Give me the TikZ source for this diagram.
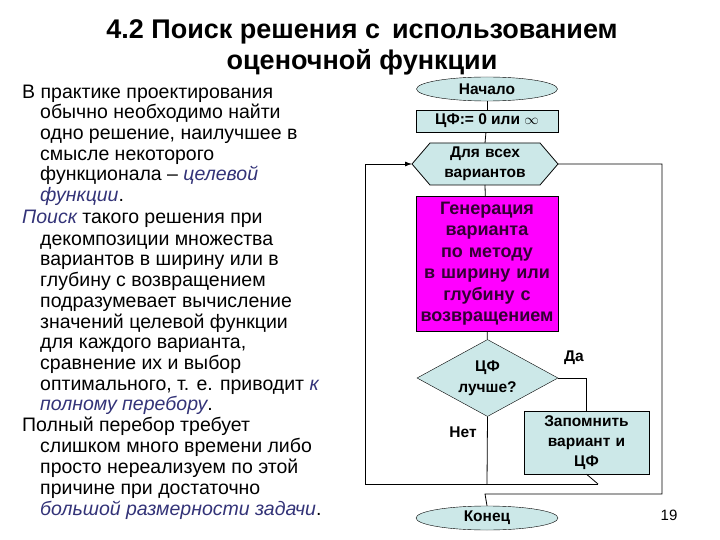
\documentclass[tikz,border=0pt]{standalone}
\usepackage{fontspec}
\setmainfont{Liberation Sans}
\usetikzlibrary{shapes.geometric,arrows.meta}
\definecolor{tealf}{RGB}{204,232,232}
\definecolor{mag}{RGB}{255,0,255}
\definecolor{itb}{RGB}{51,51,120}
\begin{document}
\begin{tikzpicture}[x=1pt,y=-1pt,
  fc/.style={draw,fill=tealf,font=\fontsize{15.5}{18}\selectfont\bfseries,align=center,inner sep=0pt},
  ln/.style={anchor=base west,inner sep=0pt,font=\fontsize{19.5}{21}\selectfont},
  wire/.style={line width=0.8pt}]
\useasboundingbox[fill=white] (0,0) rectangle (720,540);
\node[anchor=base,font=\fontsize{27}{30}\selectfont\bfseries] (t1) at (362,39) {4.2 Поиск решения с\, использованием};
\node[anchor=base,font=\fontsize{27}{30}\selectfont\bfseries] (t2) at (362,70) {оценочной функции};
% left text
\node[ln] (l1) at (22,99) {В практике проектирования};
\node[ln] (l2) at (40,119) {обычно необходимо найти};
\node[ln] (l3) at (40,140) {одно решение, наилучшее в};
\node[ln] (l4) at (40,161) {смысле некоторого};
\node[ln] (l5) at (40,181) {функционала – \textcolor{itb}{\itshape целевой}};
\node[ln] (l6) at (40,202) {\textcolor{itb}{\itshape функции}.};
\node[ln] (l7) at (22,224) {\textcolor{itb}{\itshape Поиск} такого решения при};
\node[ln] (l8) at (40,245) {декомпозиции множества};
\node[ln] (l9) at (40,265) {вариантов в ширину или в};
\node[ln] (l10) at (40,286) {глубину с возвращением};
\node[ln] (l11) at (40,307) {подразумевает вычисление};
\node[ln] (l12) at (40,328) {значений целевой функции};
\node[ln] (l13) at (40,348) {для каждого варианта,};
\node[ln] (l14) at (40,369) {сравнение их и выбор};
\node[ln] (l15) at (40,390) {оптимального, т. е. приводит \textcolor{itb}{\itshape к}};
\node[ln] (l16) at (40,410) {\textcolor{itb}{\itshape полному перебору}.};
\node[ln] (l17) at (22,431) {Полный перебор требует};
\node[ln] (l18) at (40,452) {слишком много времени либо};
\node[ln] (l19) at (40,473) {просто нереализуем по этой};
\node[ln] (l20) at (40,494) {причине при достаточно};
\node[ln] (l21) at (40,515) {\textcolor{itb}{\itshape большой размерности задачи}.};
% flowchart
\node[fc,ellipse,minimum width=141pt,minimum height=24pt] (start) at (487,89) {Начало};
\node[fc,rectangle,minimum width=142pt,minimum height=22pt] (init) at (487,121) {ЦФ:= 0 или $\infty$};
\draw[fill=tealf,wire] (412,164) -- (430,143) -- (540,143) -- (558,164) -- (540,185) -- (430,185) -- cycle;
\node[fc,draw=none,fill=none,text width=120pt,font=\fontsize{15.5}{20}\selectfont\bfseries] (loop) at (485,164) {Для всех\\вариантов};
\coordinate (loopL) at (412,164);
\coordinate (loopR) at (558,164);
\coordinate (loopT) at (485,143);
\coordinate (loopB) at (485,185);
\node[fc,fill=mag,rectangle,minimum width=142pt,minimum height=135pt,text width=140pt,font=\fontsize{18}{21.5}\selectfont\bfseries,text=black!80!mag] (gen) at (487,263.5) {Генерация\\варианта\\по методу\\в ширину или\\глубину с\\возвращением};
\node[fc,diamond,aspect=1.83,minimum width=141pt,minimum height=77pt,text width=60pt,font=\fontsize{15.5}{21}\selectfont\bfseries] (dec) at (487.5,378) {ЦФ\\лучше?};
\node[fc,rectangle,minimum width=125pt,minimum height=63pt,text width=123pt,font=\fontsize{15.5}{20}\selectfont\bfseries] (mem) at (586.5,442.5) {Запомнить\\вариант и\\ЦФ};
\node[fc,ellipse,minimum width=142pt,minimum height=24pt] (end) at (487,518) {Конец};
\node[font=\fontsize{15.5}{18}\selectfont\bfseries] (yes) at (574,358) {Да};
\node[font=\fontsize{15.5}{18}\selectfont\bfseries] (no) at (463,432) {Нет};
\node[font=\fontsize{15}{18}\selectfont] (pg) at (669,515) {19};
\coordinate (jL) at (365,484);
\coordinate (jN) at (487,484);
\coordinate (jM) at (598,484);
\coordinate (jR) at (662,494);
\coordinate (jE) at (485,494);
% connectors
\draw[wire] (start) -- (init);
\draw[wire] (init) -- (loopT);
\draw[wire] (loopB) -- (gen);
\draw[wire] (gen) -- (dec);
\draw[wire] (dec.east) -| (mem.north);
\draw[wire] (dec.south) -- (jN);
\draw[wire] (mem.south) -- (jM);
\draw[wire,-{Latex[length=7pt,width=5pt]}] (jM) -- (jL) -- (365,164) -- (loopL);
\draw[wire] (loopR) -| (jR) -- (jE) -- (end.north);
\end{tikzpicture}
\end{document}
